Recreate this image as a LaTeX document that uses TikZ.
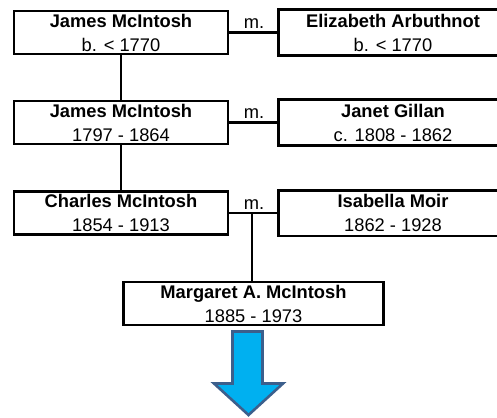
\documentclass[tikz,border=0pt]{standalone}
\usepackage{fontspec}
\setmainfont{Liberation Sans}
\definecolor{arrowfill}{RGB}{0,176,240}
\definecolor{arrowline}{RGB}{60,95,140}
\begin{document}
\begin{tikzpicture}[x=1pt,y=-1pt,
  person/.style={line width=2.6pt,minimum height=43pt,inner sep=0pt,
    align=center,font=\fontsize{18.3}{24}\selectfont},
  leftbox/.style={person,draw=black,minimum width=214pt},
  rightbox/.style={person,minimum width=226pt},
  frame/.style={line width=2.6pt,draw=black},
  link/.style={line width=2.6pt,draw=black},
  mlabel/.style={anchor=base,yshift=4pt,inner sep=0pt,font=\fontsize{18.3}{24}\selectfont}]
\useasboundingbox (0,0) rectangle (497,417);

\node[leftbox]  (j1) at (121,32.5) {\textbf{James McIntosh}\\b. < 1770};
\node[rightbox] (e1) at (393,32.5) {\textbf{Elizabeth Arbuthnot}\\b. < 1770};
\node[leftbox]  (j2) at (121,122.5) {\textbf{James McIntosh}\\1797 - 1864};
\node[rightbox] (g2) at (393,122.5) {\textbf{Janet Gillan}\\c. 1808 - 1862};
\node[leftbox]  (c3) at (121,213) {\textbf{Charles McIntosh}\\1854 - 1913};
\node[rightbox] (i3) at (393,213) {\textbf{Isabella Moir}\\1862 - 1928};
\node[person,draw=black,minimum width=260pt] (m4) at (253.5,303.5) {\textbf{Margaret A. McIntosh}\\1885 - 1973};

% right-hand boxes run off the right edge of the picture
\draw[frame] (e1.north west) rectangle ([xshift=40pt]e1.south east);
\draw[frame] (g2.north west) rectangle ([xshift=40pt]g2.south east);
\draw[frame] (i3.north west) rectangle ([xshift=40pt]i3.south east);

\draw[link] (j1.south) -- (j2.north);
\draw[link] (j2.south) -- (c3.north);

\draw[link] (j1.east) -- node[mlabel]{m.} (e1.west);
\draw[link] (j2.east) -- node[mlabel]{m.} (g2.west);
\draw[link] (c3.east) -- node[mlabel]{m.} (i3.west);

\coordinate (k3) at (252,213);
\draw[link] (k3) -- (k3 |- m4.north);

\draw[fill=arrowfill,draw=arrowline,line width=2.6pt,line join=miter]
  (232.5,331.5) -- (262.5,331.5) -- (262.5,383.5) -- (283,383.5)
  -- (248.5,415) -- (214,383.5) -- (232.5,383.5) -- cycle;
\end{tikzpicture}
\end{document}
